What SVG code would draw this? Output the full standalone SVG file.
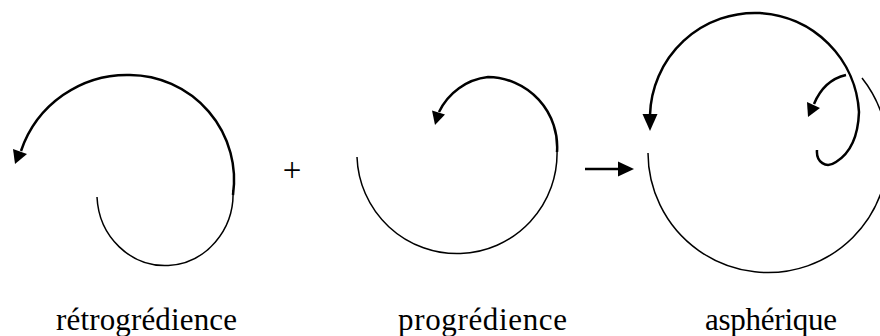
<svg xmlns="http://www.w3.org/2000/svg" width="880" height="336" viewBox="0 0 880 336">
<style>
.thick{fill:none;stroke:#000;stroke-width:2.5;stroke-linecap:butt}
.thin{fill:none;stroke:#000;stroke-width:1.5}
.head{fill:#000;stroke:none}
.lbl{font-family:"Liberation Serif","Times New Roman",serif;font-size:31px;fill:#000}
</style>
<rect width="880" height="336" fill="#fff"/>
<g id="retrogredience">
  <path class="thin" d="M97,197 A68,72 0 1 0 233,190"/>
  <path class="thick" d="M233,195 A105,105 0 0 0 130,75 A112,112 0 0 0 21,151"/>
  <polygon class="head" points="15,164 13,149 27,154"/>
</g>
<g id="plus">
  <text x="292" y="181" text-anchor="middle" class="lbl" style="font-size:33px">+</text>
</g>
<g id="progredience">
  <path class="thin" d="M357,157 A100,100 0 0 0 557,150"/>
  <path class="thick" d="M557,152 A70,70 0 0 0 488,77 A62,62 0 0 0 439,112"/>
  <polygon class="head" points="435,125 432,110.5 445,114.5"/>
</g>
<g id="connectors">
  <line class="thick" x1="585" y1="169" x2="619" y2="169"/>
  <polygon class="head" points="634,169 618,161.5 618,176.5"/>
</g>
<g id="aspherique">
  <path class="thin" d="M648,153 A120,120 0 1 0 862,78"/>
  <path class="thick" d="M817,150 C816,162 826,169 836,162 C849,154 858,140 859,112 A105,105 0 0 0 760,13 A105,105 0 0 0 650,115"/>
  <polygon class="head" points="650,131 642.5,114 657.5,114"/>
  <path class="thick" d="M846,75 Q824,80 814,104"/>
  <polygon class="head" points="808,117 807,102 820,108"/>
</g>
<g id="labels">
  <text x="56" y="330" class="lbl" textLength="181">rétrogrédience</text>
  <text x="398" y="330" class="lbl" textLength="169">progrédience</text>
  <text x="705" y="330" class="lbl" textLength="132">asphérique</text>
</g>
</svg>
